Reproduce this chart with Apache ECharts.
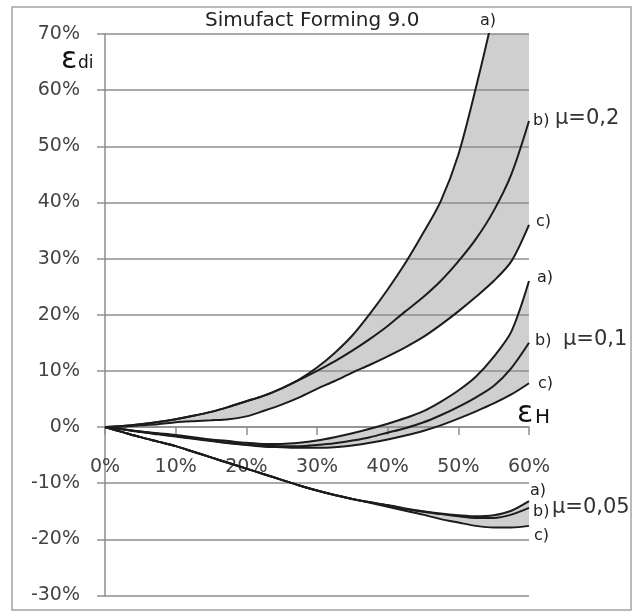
<!DOCTYPE html>
<html>
<head>
<meta charset="utf-8">
<script src="https://cdn.jsdelivr.net/npm/echarts@6/dist/echarts.min.js"></script>
<style>
  html, body { margin: 0; padding: 0; background: #fff; }
  #chart { width: 633px; height: 613px; }
</style>
</head>
<body>
<div id="chart"></div>
<script>
// Height strain εH (%) at which every curve is sampled
const strainH = [0, 2.5, 5, 7.5, 10, 12.5, 15, 17.5, 20, 22.5, 25, 27.5, 30,
                 32.5, 35, 37.5, 40, 42.5, 45, 47.5, 50, 52.5, 55, 57.5, 60];

// Axis ticks
const xTicks = { min: 0, max: 60, step: 10 };
const yTicks = { min: -30, max: 70, step: 10 };

// μ = 0,2  (a leaves the plot above 70 %)
const mu02a = [0, 0.2, 0.5, 0.9, 1.4, 2.0, 2.7, 3.6, 4.6, 5.6, 6.9, 8.5, 10.6,
               13.2, 16.3, 20.2, 24.5, 29.2, 34.5, 40.2, 48.5, 60.5, 74, 90, 108];
const mu02b = [0, 0.2, 0.5, 0.9, 1.4, 2.0, 2.7, 3.6, 4.6, 5.6, 6.9, 8.4, 10.0,
               11.7, 13.6, 15.7, 18.0, 20.6, 23.1, 26.0, 29.5, 33.5, 38.5, 45.0, 54.5];
const mu02c = [0, 0.1, 0.3, 0.5, 0.85, 1.05, 1.2, 1.4, 1.9, 2.9, 4.0, 5.3, 6.8,
               8.2, 9.7, 11.1, 12.6, 14.2, 16.0, 18.2, 20.6, 23.2, 26.0, 29.5, 36.0];

// μ = 0,1
const mu01a = [0, -0.4, -0.8, -1.1, -1.4, -1.8, -2.2, -2.5, -2.8, -3.0, -3.0, -2.8, -2.4,
               -1.8, -1.1, -0.3, 0.6, 1.6, 2.8, 4.5, 6.5, 9.0, 12.5, 17.0, 26.0];
const mu01b = [0, -0.4, -0.8, -1.2, -1.6, -2.0, -2.4, -2.8, -3.1, -3.3, -3.4, -3.4, -3.2,
               -2.9, -2.4, -1.8, -1.0, -0.2, 0.8, 2.1, 3.6, 5.3, 7.3, 10.5, 15.0];
const mu01c = [0, -0.4, -0.9, -1.3, -1.7, -2.1, -2.5, -2.9, -3.2, -3.5, -3.6, -3.7, -3.7,
               -3.6, -3.3, -2.8, -2.2, -1.5, -0.7, 0.3, 1.5, 2.8, 4.2, 5.8, 7.8];

// μ = 0,05
const mu005a = [0, -0.9, -1.8, -2.6, -3.4, -4.4, -5.4, -6.4, -7.4, -8.4, -9.4, -10.4, -11.3,
                -12.1, -12.8, -13.4, -13.9, -14.5, -15.0, -15.4, -15.7, -15.9, -15.7, -14.9, -13.2];
const mu005b = [0, -0.9, -1.8, -2.6, -3.4, -4.4, -5.4, -6.4, -7.4, -8.4, -9.4, -10.4, -11.3,
                -12.1, -12.8, -13.4, -13.95, -14.6, -15.1, -15.5, -15.9, -16.2, -16.2, -15.6, -14.4];
const mu005c = [0, -0.9, -1.8, -2.6, -3.4, -4.4, -5.4, -6.4, -7.4, -8.4, -9.4, -10.4, -11.3,
                -12.1, -12.8, -13.5, -14.2, -14.9, -15.6, -16.4, -17.0, -17.6, -17.9, -17.9, -17.6];

const groups = [
  { name: 'μ=0,2',  a: mu02a,  b: mu02b,  c: mu02c },
  { name: 'μ=0,1',  a: mu01a,  b: mu01b,  c: mu01c },
  { name: 'μ=0,05', a: mu005a, b: mu005b, c: mu005c }
];

const FONT = '"DejaVu Sans", Verdana, sans-serif';
const GRID_GREY = '#8e8e8e';
const BAND_GREY = '#cfcfcf';
const CURVE = '#1c1c1c';

// Plot rectangle inside the 633 x 613 canvas
const GRID = { left: 105, right: 104, top: 34, bottom: 17.5 };
const plotHeight = 613 - GRID.top - GRID.bottom;
// The strain axis runs along the 0 % line: shift it up from the bottom edge
const xAxisOffset = -plotHeight * (0 - yTicks.min) / (yTicks.max - yTicks.min);

const pairs = arr => strainH.map((x, i) => [x, arr[i]]);

const series = [];

// Shaded envelope between curve a) and curve c) of each friction value
groups.forEach(g => {
  series.push({
    type: 'custom',
    name: g.name + ' band',
    coordinateSystem: 'cartesian2d',
    clip: true,
    silent: true,
    z: 1,
    data: [[0, 0]],
    renderItem: (params, api) => {
      const upper = strainH.map((x, i) => api.coord([x, g.a[i]]));
      const lower = strainH.map((x, i) => api.coord([x, g.c[i]])).reverse();
      return {
        type: 'polygon',
        shape: { points: upper.concat(lower) },
        style: { fill: BAND_GREY, stroke: null }
      };
    }
  });
});

// The nine strain curves
groups.forEach(g => {
  ['a', 'b', 'c'].forEach(k => {
    series.push({
      type: 'line',
      name: g.name + ' ' + k + ')',
      data: pairs(g[k]),
      smooth: 0.3,
      showSymbol: false,
      symbol: 'none',
      clip: true,
      silent: true,
      z: 3,
      lineStyle: { color: CURVE, width: 2 }
    });
  });
});

const label = (text, x, y, size, color) => ({
  type: 'text',
  x: x, y: y,
  z: 10,
  style: {
    text: text,
    fontFamily: FONT,
    fontSize: size,
    fill: color || '#222',
    align: 'left',
    verticalAlign: 'middle'
  }
});

const chart = echarts.init(document.getElementById('chart'), null, { renderer: 'canvas' });

chart.setOption({
  animation: false,
  backgroundColor: '#fff',
  grid: Object.assign({ containLabel: false, outerBoundsMode: 'none' }, GRID),
  xAxis: {
    type: 'value',
    position: 'bottom',
    offset: xAxisOffset,
    z: 2,
    min: xTicks.min, max: xTicks.max, interval: xTicks.step,
    axisLine: { show: true, onZero: false, lineStyle: { color: GRID_GREY, width: 1.5 } },
    axisTick: { show: true, length: 8, lineStyle: { color: GRID_GREY, width: 1.5 } },
    splitLine: { show: false },
    axisLabel: { show: true, formatter: '{value}%', fontFamily: FONT, fontSize: 19, color: '#444', margin: 31 }
  },
  yAxis: {
    type: 'value',
    z: 2,
    min: yTicks.min, max: yTicks.max, interval: yTicks.step,
    axisLine: { show: true, onZero: false, lineStyle: { color: GRID_GREY, width: 1.5 } },
    axisTick: { show: true, length: 8, lineStyle: { color: GRID_GREY, width: 1.5 } },
    splitLine: { show: true, lineStyle: { color: GRID_GREY, width: 1.5 } },
    axisLabel: { formatter: '{value}%', fontFamily: FONT, fontSize: 19, color: '#444', margin: 25 }
  },
  graphic: [
    {
      type: 'rect',
      z: 0,
      shape: { x: 12, y: 7, width: 619, height: 603 },
      style: { fill: null, stroke: '#a4a4a4', lineWidth: 1.5 }
    },
    label('Simufact Forming 9.0', 205, 21, 20, '#222'),
    // axis symbols
    label('ε', 61, 60, 30, '#111'),
    label('di', 78, 64, 17, '#111'),
    label('ε', 517, 414, 30, '#111'),
    label('H', 535, 418, 20, '#111'),
    // μ = 0,2
    label('a)', 480, 21, 16),
    label('b)', 533, 121, 16),
    label('μ=0,2', 555, 119, 21, '#333'),
    label('c)', 536, 222, 16),
    // μ = 0,1
    label('a)', 537, 278, 16),
    label('b)', 535, 341, 16),
    label('μ=0,1', 563, 340, 21, '#333'),
    label('c)', 538, 384, 16),
    // μ = 0,05
    label('a)', 530, 491, 16),
    label('b)', 533, 512, 16),
    label('μ=0,05', 552, 508, 21, '#333'),
    label('c)', 534, 536, 16)
  ],
  series: series
});
</script>
</body>
</html>
